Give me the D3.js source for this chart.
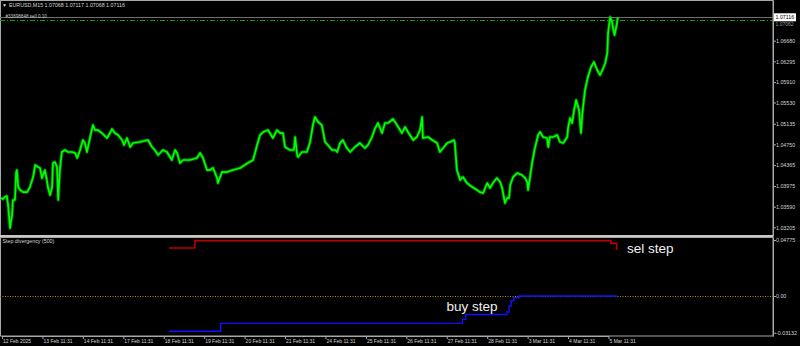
<!DOCTYPE html>
<html>
<head>
<meta charset="utf-8">
<script src="https://cdn.jsdelivr.net/npm/d3@7"></script>
<style>
  html, body { margin: 0; padding: 0; background: #000; }
  svg { display: block; }
  text { font-family: "Liberation Sans", Arial, sans-serif; }
</style>
</head>
<body>
<div id="chart"></div>
<script>
// --- Header / order info ---
const symbolName = "EURUSD,M15";
const lastOhlc = [1.07068, 1.07117, 1.07068, 1.07116];
const orderLabel = "#33698848 sell 0.10";
const orderPrice = 1.07062;
const bidPrice = 1.07116;

// --- Time axis: one tick per trading day ---
const dayLabels = [
  "12 Feb 2025", "13 Feb 11:31", "14 Feb 11:31", "17 Feb 11:31", "18 Feb 11:31",
  "19 Feb 11:31", "20 Feb 11:31", "21 Feb 11:31", "24 Feb 11:31", "25 Feb 11:31",
  "26 Feb 11:31", "27 Feb 11:31", "28 Feb 11:31", "3 Mar 11:31", "4 Mar 11:31",
  "5 Mar 11:31"
];

// --- Price ticks (right axis) ---
const priceTicks = [1.06680, 1.06295, 1.05910, 1.05530, 1.05135,
                    1.04750, 1.04365, 1.03975, 1.03590, 1.03205];

// --- Close prices, position in trading days ---
const priceDay = [
  -0.02, 0.02, 0.07, 0.12, 0.15, 0.20, 0.22, 0.25, 0.27, 0.32,
  0.35, 0.37, 0.40, 0.45, 0.52, 0.62, 0.69, 0.77, 0.82, 0.89,
  0.94, 0.99, 1.06, 1.11, 1.14, 1.19, 1.24, 1.26, 1.31, 1.36,
  1.39, 1.41, 1.43, 1.48, 1.56, 1.63, 1.73, 1.81, 1.86, 1.93,
  2.00, 2.05, 2.10, 2.18, 2.25, 2.30, 2.37, 2.47, 2.60, 2.67,
  2.72, 2.79, 2.87, 2.97, 3.02, 3.09, 3.17, 3.24, 3.41, 3.61,
  3.71, 3.78, 3.86, 3.98, 4.08, 4.20, 4.28, 4.33, 4.40, 4.48,
  4.65, 4.82, 4.90, 4.97, 5.07, 5.14, 5.22, 5.32, 5.34, 5.44,
  5.57, 5.71, 5.89, 6.08, 6.21, 6.31, 6.38, 6.46, 6.58, 6.70,
  6.80, 6.88, 6.95, 7.00, 7.12, 7.22, 7.25, 7.30, 7.32, 7.42,
  7.54, 7.62, 7.69, 7.74, 7.82, 7.91, 7.99, 8.06, 8.16, 8.24,
  8.29, 8.36, 8.43, 8.53, 8.61, 8.73, 8.85, 8.98, 9.05, 9.15,
  9.23, 9.30, 9.40, 9.47, 9.55, 9.67, 9.77, 9.89, 9.97, 10.04,
  10.17, 10.26, 10.34, 10.39, 10.41, 10.54, 10.64, 10.76, 10.83, 10.91,
  11.01, 11.08, 11.18, 11.20, 11.25, 11.33, 11.40, 11.50, 11.63, 11.75,
  11.82, 11.90, 12.00, 12.07, 12.14, 12.24, 12.32, 12.37, 12.44, 12.49,
  12.54, 12.57, 12.64, 12.74, 12.86, 12.94, 12.99, 13.01, 13.06, 13.11,
  13.18, 13.26, 13.31, 13.38, 13.48, 13.51, 13.55, 13.63, 13.73, 13.80,
  13.88, 13.98, 14.00, 14.05, 14.10, 14.15, 14.20, 14.27, 14.32, 14.35,
  14.37, 14.42, 14.49, 14.57, 14.64, 14.72, 14.79, 14.85, 14.92, 14.97,
  14.99, 15.04, 15.09, 15.11, 15.15, 15.20, 15.23
];
const priceClose = [
  1.03751, 1.03732, 1.03770, 1.03788, 1.03621, 1.03192, 1.03304, 1.03434, 1.03714, 1.03714,
  1.04235, 1.04272, 1.03955, 1.03900, 1.03862, 1.03862, 1.03955, 1.04142, 1.04365, 1.04328,
  1.04310, 1.04123, 1.04272, 1.04086, 1.03937, 1.03807, 1.03955, 1.04403, 1.04421, 1.04328,
  1.03714, 1.03993, 1.04272, 1.04608, 1.04645, 1.04608, 1.04608, 1.04589, 1.04496, 1.04645,
  1.04831, 1.04775, 1.04608, 1.04887, 1.05110, 1.05017, 1.05017, 1.04961, 1.04868, 1.04961,
  1.05036, 1.04961, 1.04924, 1.04831, 1.04738, 1.04868, 1.04701, 1.04775, 1.04794, 1.04831,
  1.04701, 1.04645, 1.04552, 1.04645, 1.04608, 1.04459, 1.04645, 1.04589, 1.04403, 1.04459,
  1.04459, 1.04496, 1.04589, 1.04496, 1.04272, 1.04272, 1.04310, 1.04123, 1.04030, 1.04235,
  1.04235, 1.04272, 1.04310, 1.04403, 1.04459, 1.04738, 1.04924, 1.04980, 1.05017, 1.04868,
  1.05017, 1.04961, 1.04961, 1.04701, 1.04645, 1.04645, 1.04887, 1.04552, 1.04514, 1.04608,
  1.04608, 1.04794, 1.05110, 1.05259, 1.05166, 1.05110, 1.04794, 1.04738, 1.04645, 1.04645,
  1.04608, 1.04775, 1.04831, 1.04682, 1.04608, 1.04701, 1.04775, 1.04682, 1.04738, 1.04887,
  1.05054, 1.05148, 1.04961, 1.05148, 1.05148, 1.05222, 1.05110, 1.04961, 1.05073, 1.04980,
  1.04831, 1.04887, 1.05017, 1.05259, 1.04868, 1.04887, 1.04831, 1.04775, 1.04608, 1.04682,
  1.04775, 1.04794, 1.04831, 1.04775, 1.04272, 1.04086, 1.04142, 1.04030, 1.03955, 1.03900,
  1.03862, 1.03844, 1.04030, 1.03937, 1.04030, 1.04123, 1.04049, 1.03937, 1.03658, 1.03751,
  1.03751, 1.03993, 1.04142, 1.04216, 1.04179, 1.04123, 1.04049, 1.03900, 1.04142, 1.04403,
  1.04682, 1.04924, 1.04980, 1.04887, 1.04868, 1.04701, 1.04887, 1.04887, 1.04924, 1.04794,
  1.04775, 1.04887, 1.05054, 1.05241, 1.05148, 1.05390, 1.05576, 1.05390, 1.04961, 1.05297,
  1.05445, 1.05762, 1.06004, 1.06190, 1.06283, 1.06134, 1.06041, 1.06134, 1.06265, 1.06451,
  1.06823, 1.07121, 1.07028, 1.06917, 1.06786, 1.06972, 1.07116
];

// --- Step divergency indicator ---
const indicatorTitle = "Step divergency (500)";
const indTicks = [0.04775, 0, -0.03132];
const indTickLabels = ["0.04775", "0.00", "-0.03132"];
const selDay = [4.13, 4.77, 15.06, 15.20];
const selValue = [0.0409, 0.0472, 0.0449, 0.0392];
const buyDay = [4.13, 5.41, 11.39, 11.47, 12.49, 12.54, 12.59, 12.66, 12.79, 15.21];
const buyValue = [-0.0301, -0.0233, -0.0199, -0.0158, -0.0137, -0.0085, -0.0040, -0.0015, 0.0000, 0.0000];

// --------------------------
// CHART DIMENSIONS
// --------------------------
const width = 800;
const height = 346;
const plotRight = 773;
const mainPanel = { top: 0, bottom: 236 };
const indPanel = { top: 237, bottom: 336 };

const frameColor = "#a8a8a8";
const labelColor = "#d4d4d4";

const svg = d3.select("#chart")
  .append("svg")
  .attr("width", width)
  .attr("height", height)
  .style("background", "#000");

// Scales
const x = d3.scaleLinear().domain([0, 15]).range([2, 608.5]);
const yPrice = d3.scaleLinear().domain([1.03044, 1.07438]).range([mainPanel.bottom, mainPanel.top]);
const yInd = d3.scaleLinear().domain([-0.0341, 0.0503]).range([indPanel.bottom, indPanel.top]);

// Clip paths
svg.append("clipPath").attr("id", "clip-main")
  .append("rect").attr("x", 0).attr("y", mainPanel.top)
  .attr("width", plotRight).attr("height", mainPanel.bottom - mainPanel.top);

// --------------------------
// FRAMES
// --------------------------
svg.append("rect")
  .attr("x", 0.5).attr("y", 0.5)
  .attr("width", plotRight - 0.5).attr("height", mainPanel.bottom - 0.5)
  .attr("fill", "none").attr("stroke", frameColor);

svg.append("rect")
  .attr("x", 0.5).attr("y", indPanel.top + 0.5)
  .attr("width", plotRight - 0.5).attr("height", indPanel.bottom - indPanel.top - 0.5)
  .attr("fill", "none").attr("stroke", frameColor);

svg.append("line")
  .attr("x1", 0).attr("x2", plotRight)
  .attr("y1", mainPanel.bottom).attr("y2", mainPanel.bottom)
  .attr("stroke", "#c8c8c8").attr("stroke-width", 2);

// --------------------------
// PRICE PANEL
// --------------------------
const priceData = priceDay.map((t, i) => ({ t, p: priceClose[i] }));

// Bid line (grey) and order line (green dash-dot)
svg.append("line")
  .attr("x1", 0).attr("x2", plotRight)
  .attr("y1", Math.round(yPrice(bidPrice)) + 0.5).attr("y2", Math.round(yPrice(bidPrice)) + 0.5)
  .attr("stroke", "#6e6e6e");

svg.append("line")
  .attr("x1", 0).attr("x2", plotRight)
  .attr("y1", Math.round(yPrice(orderPrice)) + 0.5).attr("y2", Math.round(yPrice(orderPrice)) + 0.5)
  .attr("stroke", "#10a010")
  .attr("stroke-dasharray", "5,2,1,2");

const priceLine = d3.line()
  .x(d => x(d.t))
  .y(d => yPrice(d.p));

const priceG = svg.append("g").attr("clip-path", "url(#clip-main)");

priceG.append("path")
  .datum(priceData)
  .attr("d", priceLine)
  .attr("fill", "none")
  .attr("stroke", "#00a000")
  .attr("stroke-width", 3.4)
  .attr("stroke-opacity", 0.6)
  .attr("stroke-linejoin", "round");

priceG.append("path")
  .datum(priceData)
  .attr("d", priceLine)
  .attr("fill", "none")
  .attr("stroke", "#00ff00")
  .attr("stroke-width", 1.7)
  .attr("stroke-linejoin", "round");

// Price axis (right)
const priceAxis = svg.append("g")
  .attr("transform", `translate(${plotRight}, 0)`)
  .call(d3.axisRight(yPrice)
    .tickValues(priceTicks)
    .tickFormat(d3.format(".5f"))
    .tickSize(3)
    .tickSizeOuter(0)
    .tickPadding(0));

// Header texts
svg.append("text")
  .attr("x", 2).attr("y", 7)
  .attr("fill", labelColor)
  .attr("font-size", 5)
  .text("\u25BC");

svg.append("text")
  .attr("x", 9).attr("y", 7.2)
  .attr("fill", labelColor)
  .attr("font-size", 5.3)
  .text(`${symbolName}  ${lastOhlc.map(d3.format(".5f")).join(" ")}`);

svg.append("text")
  .attr("x", 5.5).attr("y", yPrice(orderPrice) - 1.8)
  .attr("fill", "#c8c8c8")
  .attr("font-size", 4.6)
  .text(orderLabel);

// Bid tag, with the order price tag just below it
svg.append("rect")
  .attr("x", plotRight + 1).attr("y", yPrice(bidPrice) - 4)
  .attr("width", 22).attr("height", 8)
  .attr("fill", "#ffffff");

svg.append("text")
  .attr("x", plotRight + 2.5).attr("y", yPrice(bidPrice) + 1.9)
  .attr("fill", "#000")
  .attr("font-size", 5.3)
  .text(d3.format(".5f")(bidPrice));

svg.append("text")
  .attr("x", plotRight + 2.5).attr("y", yPrice(bidPrice) + 8.6)
  .attr("fill", "#9a9a9a")
  .attr("font-size", 5)
  .text(d3.format(".5f")(orderPrice));

// --------------------------
// INDICATOR PANEL
// --------------------------
svg.append("line")
  .attr("x1", 0).attr("x2", plotRight)
  .attr("y1", Math.round(yInd(0)) + 0.5).attr("y2", Math.round(yInd(0)) + 0.5)
  .attr("stroke", "#b89400")
  .attr("stroke-dasharray", "1,1.5");

const stepLine = d3.line()
  .x(d => x(d.t))
  .y(d => yInd(d.v))
  .curve(d3.curveStepAfter);

svg.append("path")
  .datum(selDay.map((t, i) => ({ t, v: selValue[i] })))
  .attr("d", stepLine)
  .attr("fill", "none")
  .attr("stroke", "#b80000")
  .attr("stroke-width", 1.6);

svg.append("path")
  .datum(buyDay.map((t, i) => ({ t, v: buyValue[i] })))
  .attr("d", stepLine)
  .attr("fill", "none")
  .attr("stroke", "#1010ff")
  .attr("stroke-width", 1.4);

svg.append("text")
  .attr("x", 2.5).attr("y", indPanel.top + 5.8)
  .attr("fill", labelColor)
  .attr("font-size", 5.3)
  .text(indicatorTitle);

svg.append("text")
  .attr("x", 627).attr("y", 253)
  .attr("fill", "#f0f0f0")
  .attr("font-size", 13.5)
  .text("sel step");

svg.append("text")
  .attr("x", 446.5).attr("y", 310.5)
  .attr("fill", "#f0f0f0")
  .attr("font-size", 13.5)
  .text("buy step");

// Indicator axis (right)
const indAxis = svg.append("g")
  .attr("transform", `translate(${plotRight}, 0)`)
  .call(d3.axisRight(yInd)
    .tickValues(indTicks)
    .tickFormat((d, i) => indTickLabels[i])
    .tickSize(3)
    .tickSizeOuter(0)
    .tickPadding(0));

// Time axis (bottom)
const timeAxis = svg.append("g")
  .attr("transform", `translate(0, ${indPanel.bottom})`)
  .call(d3.axisBottom(x)
    .tickValues(d3.range(dayLabels.length))
    .tickFormat((d, i) => dayLabels[i])
    .tickSize(3)
    .tickSizeOuter(0)
    .tickPadding(0));

timeAxis.selectAll("text")
  .attr("text-anchor", "start")
  .attr("dx", 0.5);

// Axis styling
[priceAxis, indAxis, timeAxis].forEach(g => {
  g.select(".domain").attr("stroke", frameColor);
  g.selectAll(".tick line").attr("stroke", frameColor);
  g.selectAll(".tick text")
    .attr("fill", labelColor)
    .attr("font-size", 5.3)
    .attr("font-family", "Liberation Sans, Arial, sans-serif");
});
timeAxis.selectAll(".tick text").attr("font-size", 5);
</script>
</body>
</html>
